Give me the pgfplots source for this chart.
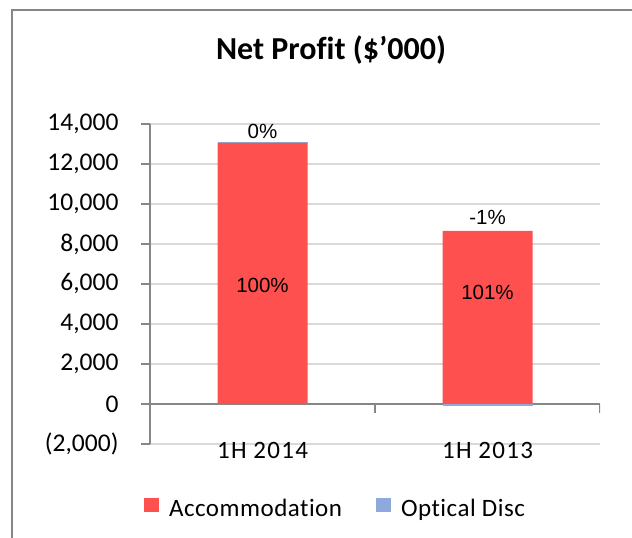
\documentclass[border=0pt]{standalone}
\usepackage{fontspec}
\setmainfont{Carlito}[Ligatures=NoCommon]
\newfontfamily\arialfont{Liberation Sans}
\usepackage{pgfplots}
\pgfplotsset{compat=1.18}
\definecolor{accred}{HTML}{FF5050}
\definecolor{discblue}{HTML}{8EAADC}
\definecolor{axgray}{HTML}{868686}
\definecolor{gridgray}{HTML}{D9D9D9}

\begin{document}
\begin{tikzpicture}[x=1pt,y=1pt]
\useasboundingbox (0,0) rectangle (632,538);
\draw[axgray,line width=1.2pt] (12,-10) -- (12,528) -- (700,528);
\node[font=\fontsize{32}{36}\selectfont\bfseries] at (331,488) {Net Prof{}it (\$’000)};
\begin{axis}[
 at={(150pt,94pt)},anchor=south west,
 scale only axis,width=450pt,height=320pt,
 ybar stacked,bar width=0.4,
 xmin=-0.5,xmax=1.5,ymin=-2000,ymax=14000,
 scaled y ticks=false,
 xtick={0,1},xticklabels={1H 2014,1H 2013},
 ytick={-2000,0,2000,4000,6000,8000,10000,12000,14000},
 yticklabels={(2{,}000),0,{2,000},{4,000},{6,000},{8,000},{10,000},{12,000},{14,000}},
 axis y line*=left,axis x line*=bottom,
 y axis line style={draw=axgray,line width=1.2pt},
 x axis line style={draw=gridgray,line width=1.2pt},
 ymajorgrids,grid style={draw=gridgray,line width=1.2pt},
 xtick style={draw=none},
 ytick style={draw=axgray,line width=1.2pt},
 tick align=outside,major tick length=9pt,
 tick label style={font=\fontsize{25.5}{29}\selectfont},
 xticklabel style={anchor=center,yshift=3pt,font=\fontsize{25}{29}\selectfont\addfontfeature{LetterSpace=5}},
 yticklabel style={xshift=-19pt},
 legend columns=2,
 legend style={draw=none,fill=none,inner sep=0pt,
   font=\fontsize{25}{29}\selectfont\addfontfeature{LetterSpace=2},
   at={(0.41,-0.2)},anchor=center,
   nodes={inner sep=0pt},
   /tikz/every odd column/.append style={column sep=10pt},
   /tikz/every even column/.append style={column sep=34pt}},
 legend image code/.code={\fill[#1,draw=none] (0pt,-4pt) rectangle (15pt,10pt);},
 ]
\addplot+[fill=accred,draw=none] coordinates {(0,13050) (1,8650)};
\addlegendentry{Accommodation}
\addplot+[fill=discblue,draw=none] coordinates {(0,50) (1,0)};
\addlegendentry{Optical Disc}
\addplot+[fill=discblue,draw=none,stack plots=false,forget plot] coordinates {(1,-90)};
\draw[axgray,line width=1.2pt] (axis cs:-0.5,0) -- (axis cs:1.5,0);
\draw[axgray,line width=1.2pt] (axis cs:0.5,0) -- ([yshift=-9pt]axis cs:0.5,0);
\draw[axgray,line width=1.2pt] (axis cs:1.5,0) -- ([yshift=-9pt]axis cs:1.5,0);
\coordinate (l1) at (axis cs:0,5950);
\coordinate (l2) at (axis cs:1,5600);
\coordinate (l3) at (axis cs:0,13615);
\coordinate (l4) at (axis cs:1,9350);
\end{axis}
\begin{scope}[every node/.style={font=\arialfont\fontsize{20.5}{24}\selectfont}]
\node at (l1) {100\%};
\node at (l2) {101\%};
\node at (l3) {0\%};
\node at (l4) {-1\%};
\end{scope}
\end{tikzpicture}
\end{document}
